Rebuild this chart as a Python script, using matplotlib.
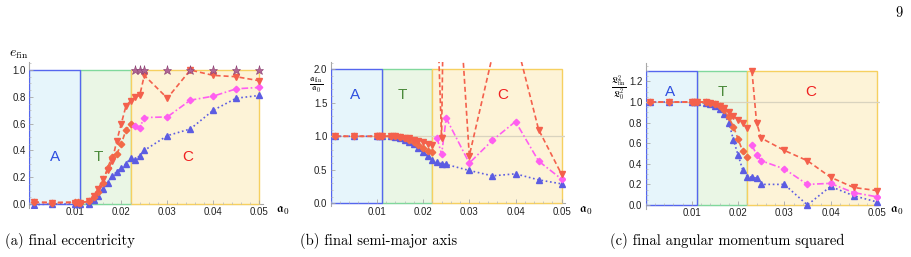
import matplotlib
matplotlib.use('Agg')
from matplotlib import pyplot as plt
from matplotlib.patches import Rectangle
from matplotlib.ticker import MultipleLocator

plt.rcParams['font.family'] = ['Liberation Sans', 'DejaVu Sans']
plt.rcParams['mathtext.fontset'] = 'cm'

# sample points (a0)
x_low = [0.001, 0.005, 0.01, 0.0105, 0.011, 0.013, 0.014, 0.015, 0.016, 0.017,
         0.018, 0.019, 0.020, 0.021, 0.022]
x_high = [0.023, 0.024, 0.025, 0.03, 0.035, 0.04, 0.045, 0.05]
x_all = x_low + x_high

region_edges = [0.0, 0.011, 0.022, 0.05]
region_names = ['A', 'T', 'C']

# (a) final eccentricity
ecc_tri_low = [0.012, 0.01, 0.01, 0.01, 0.01, 0.02, 0.06, 0.11, 0.19, 0.25,
               0.32, 0.47, 0.60, 0.73, 0.77]
ecc_tri_high = [0.80, 0.81, 0.96, 0.79, 1.0, 0.96, 0.95, 0.92]
ecc_dia = [0.015, 0.01, 0.015, 0.015, 0.01, 0.02, 0.05, 0.09, 0.16, 0.27,
           0.35, 0.37, 0.45, 0.55, 0.60]
ecc_mag = [0.58, 0.57, 0.645, 0.65, 0.775, 0.805, 0.86, 0.87]
ecc_blue = [-0.005, 0.0, 0.0, 0.0, 0.0, 0.0, 0.03, 0.06, 0.11, 0.16, 0.21,
            0.24, 0.27, 0.30, 0.34, 0.33, 0.36, 0.40, 0.51, 0.56, 0.70, 0.79, 0.81]
ecc_star = [1.0, 1.0, 1.0, 1.0, 1.0, 1.0, 1.0, 1.0]

# (b) final semi-major axis / a0
sma_tri_low = [1.0, 1.0, 1.0, 1.0, 1.0, 1.0, 1.0, 0.99, 0.98, 0.97, 0.95,
               0.93, 0.91, 0.89, 0.87]
sma_tri_high = [3.0, 0.97, 6.1, 0.71, 2.2, 2.46, 1.1, 0.43]
sma_dia = [1.0, 1.0, 1.0, 1.0, 1.0, 1.0, 1.0, 0.99, 0.97, 0.95, 0.91, 0.87,
           0.82, 0.78, 0.76]
sma_mag = [0.98, 0.73, 1.27, 0.60, 0.94, 1.22, 0.63, 0.36]
sma_blue = [1.0, 1.0, 1.0, 1.0, 1.0, 1.0, 0.99, 0.98, 0.95, 0.92, 0.88, 0.83,
            0.76, 0.70, 0.65, 0.61, 0.59, 0.58, 0.49, 0.41, 0.44, 0.35, 0.29]

# (c) final angular momentum squared / L0^2
am_tri_low = [1.0, 1.0, 1.0, 1.0, 1.0, 1.0, 0.99, 0.98, 0.96, 0.94, 0.90,
              0.86, 0.83, 0.80, 0.75]
am_tri_high = [1.3, 0.80, 0.65, 0.53, 0.43, 0.27, 0.17, 0.14]
am_dia = [1.0, 1.0, 1.0, 1.0, 1.0, 1.0, 0.99, 0.98, 0.96, 0.92, 0.85, 0.76,
          0.64, 0.52, 0.47]
am_mag = [0.58, 0.49, 0.43, 0.35, 0.20, 0.21, 0.12, 0.08]
am_blue = [1.0, 1.0, 1.0, 1.0, 1.0, 0.99, 0.98, 0.96, 0.93, 0.88, 0.80, 0.63,
           0.485, 0.34, 0.275, 0.27, 0.26, 0.20, 0.20, 0.0, 0.18, 0.09, 0.03]

x_ticks = [0.01, 0.02, 0.03, 0.04, 0.05]
x_ticklabels = ['0.01', '0.02', '0.03', '0.04', '0.05']

captions = ['(a) final eccentricity', '(b) final semi-major axis',
            '(c) final angular momentum squared']

fill_cols = ['#e6f5fb', '#eaf6e5', '#fdf3d7']
edge_cols = ['#5566ee', '#80d89c', '#f6d060']
name_cols = ['#2f4fe0', '#4b8a3b', '#f02020']

W, H = 912.0, 257.0


def draw_panel(ax, tri_low, tri_high, dia, mag, blue, box_top, ylim, yticks,
               ystep_minor, label_y, label_x, star=None, ref_line=False):
	# T first, then C, then A so the boundaries show the same colours as the original
	for i, z in zip((1, 2, 0), (1.0, 1.1, 1.2)):
		x0, x1 = region_edges[i], region_edges[i + 1]
		ax.add_patch(Rectangle((x0, 0), x1 - x0, box_top, facecolor=fill_cols[i],
		                       edgecolor=edge_cols[i], lw=1.0, zorder=z))
	if ref_line:
		ax.axhline(1.0, color='#d9d3bf', lw=0.9, zorder=2)

	ax.plot(x_all, blue, color='#5c5ce2', ls=(0, (1, 1.6)), lw=1.2, marker='^',
	        ms=4.2, zorder=3)
	ax.plot(x_low, dia, color='#f26a48', ls=(0, (3, 1.8)), lw=1.2, marker='D',
	        ms=3.3, zorder=4)
	ax.plot(x_high, mag, color='#ff5ef0', ls=(0, (4, 1.5, 1, 1.5)), lw=1.2,
	        marker='D', ms=3.3, zorder=4)
	ax.plot(x_low, tri_low, color='#f4604c', ls=(0, (3, 1.8)), lw=1.2,
	        marker='v', ms=4.5, zorder=5)
	ax.plot(x_high, tri_high, color='#f4604c', ls=(0, (3, 1.8)), lw=1.2,
	        marker='v', ms=4.5, zorder=5)
	if star is not None:
		ax.plot(x_high, star, ls='none', marker='*', ms=6.5, color='#b06494',
		        mec='#8a3e70', mew=0.4, zorder=6)

	for i in range(3):
		ax.text(label_x[i], label_y, region_names[i], color=name_cols[i],
		        fontsize=11, ha='center', va='center', zorder=7)

	ax.set_xlim(0, 0.0508)
	ax.set_ylim(*ylim)
	ax.spines['top'].set_visible(False)
	ax.spines['right'].set_visible(False)
	ax.spines['bottom'].set_position(('data', 0))
	for s in ('left', 'bottom'):
		ax.spines[s].set_color('#a8a8a8')
		ax.spines[s].set_linewidth(0.8)
		ax.spines[s].set_zorder(0.5)
	ax.set_xticks(x_ticks)
	ax.set_xticklabels(x_ticklabels)
	ax.set_yticks(yticks)
	ax.set_yticklabels(['%.1f' % v for v in yticks])
	ax.xaxis.set_minor_locator(MultipleLocator(0.002))
	ax.yaxis.set_minor_locator(MultipleLocator(ystep_minor))
	ax.tick_params(which='major', direction='in', length=3, width=0.6,
	               color='#a8a8a8', labelsize=7, pad=2.5, labelcolor='#222222')
	ax.tick_params(which='minor', direction='in', length=1.6, width=0.5,
	               color='#b8b8b8')
	ax.set_facecolor('none')


fig = plt.figure(figsize=(W / 100, H / 100), dpi=100)

ax_a = fig.add_axes([29.3 / W, 1 - 208 / H, 233.7 / W, 146 / H])
draw_panel(ax_a, ecc_tri_low, ecc_tri_high, ecc_dia, ecc_mag, ecc_blue,
           1.0, (-0.03, 1.06), [0.0, 0.2, 0.4, 0.6, 0.8, 1.0], 0.05,
           0.35, [0.0055, 0.015, 0.0345], star=ecc_star)

ax_b = fig.add_axes([330.7 / W, 1 - 206 / H, 234.7 / W, 144.1 / H])
draw_panel(ax_b, sma_tri_low, sma_tri_high, sma_dia, sma_mag, sma_blue,
           2.0, (-0.04, 2.11), [0.0, 0.5, 1.0, 1.5, 2.0], 0.1,
           1.62, [0.0053, 0.0155, 0.0372], ref_line=True)

ax_c = fig.add_axes([645.7 / W, 1 - 209.1 / H, 234.7 / W, 146.2 / H])
draw_panel(ax_c, am_tri_low, am_tri_high, am_dia, am_mag, am_blue,
           1.3, (-0.04, 1.38), [0.0, 0.2, 0.4, 0.6, 0.8, 1.0, 1.2], 0.05,
           1.1, [0.0053, 0.0165, 0.0357], ref_line=True)

# axis labels placed like in the original
fig.text(19 / W, 1 - 54 / H, r'$e_{\rm fin}$', fontsize=10, ha='center', va='center')
fig.text(316 / W, 1 - 85 / H, r'$\frac{\mathfrak{a}_{\rm fin}}{\mathfrak{a}_0}$',
         fontsize=9, ha='center', va='center')
fig.text(619 / W, 1 - 88 / H, r'$\frac{\mathfrak{L}^2_{\rm fin}}{\mathfrak{L}^2_0}$',
         fontsize=9, ha='center', va='center')
for xp in (283, 586, 897):
	fig.text(xp / W, 1 - 211 / H, r'$\mathfrak{a}_0$', fontsize=9.5, ha='center',
	         va='center')

cap_x = [5, 300, 610]
for xp, cap in zip(cap_x, captions):
	fig.text(xp / W, 1 - 241 / H, cap, family='cmr10', fontsize=10.5,
	         ha='left', va='center')
fig.text(899 / W, 1 - 13 / H, '9', family='cmr10', fontsize=10.5,
         ha='center', va='center')

fig.savefig('out.png', dpi=100)
